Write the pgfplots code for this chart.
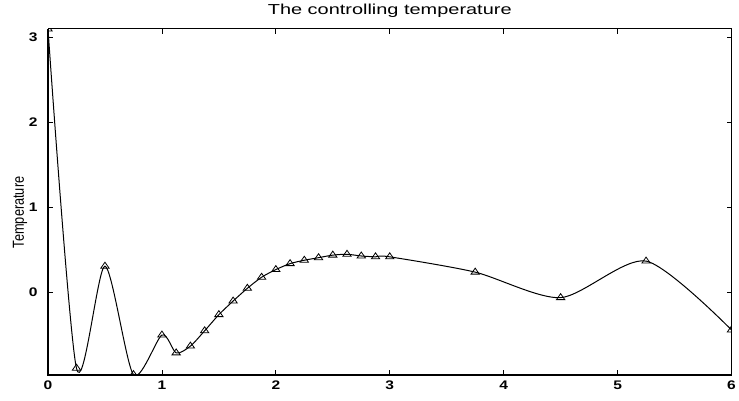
\documentclass[border=0pt]{standalone}
\usepackage{pgfplots}
\pgfplotsset{compat=1.18}
\usepackage{fontspec}
\setmainfont{Liberation Sans}
\usepackage{graphicx}
\pgfplotstableread{
x y
0 3.10
0.25 -0.89
0.5 0.31
0.75 -0.965
1.0 -0.50
1.125 -0.71
1.25 -0.63
1.375 -0.45
1.5 -0.26
1.625 -0.10
1.75 0.05
1.875 0.18
2.0 0.27
2.125 0.34
2.25 0.38
2.375 0.41
2.5 0.44
2.625 0.45
2.75 0.43
2.875 0.42
3.0 0.42
3.75 0.24
4.5 -0.06
5.25 0.37
6.0 -0.44
}\datatable
\begin{document}
\begin{tikzpicture}
\useasboundingbox (-48bp,-26bp) rectangle (691bp,375bp);
\begin{axis}[
  scale only axis, width=683.5bp, height=346bp,
  at={(0,0)}, anchor=south west,
  xmin=0, xmax=6, ymin=-0.97, ymax=3.1,
  xtick={0,1,2,3,4,5,6}, ytick={0,1,2,3},
  /pgf/number format/assume math mode=true,
  xticklabel={\scalebox{1.25}[1]{\pgfmathprintnumber{\tick}}},
  yticklabel={\scalebox{1.25}[1]{\pgfmathprintnumber{\tick}}},
  tick align=inside, major tick length=5bp,
  tick style={black, line width=0.8bp},
  axis line style={line width=1bp},
  ticklabel style={font=\fontsize{12.5}{14}\selectfont\bfseries},
  xticklabel style={anchor=north, yshift=-2bp},
  yticklabel style={anchor=east, xshift=-7bp},
  title={\scalebox{1.38}[1]{The controlling temperature}},
  title style={font=\fontsize{14.5}{16}\selectfont, at={(axis description cs:0.5,1)}, anchor=base, yshift=9bp},
  ylabel={\scalebox{1}[1.25]{Temperature}},
  ylabel style={font=\fontsize{12.8}{14}\selectfont, at={(axis description cs:0,0.47)}, anchor=center, rotate=0, yshift=28bp},
  clip marker paths=true,
]
\addplot[black, line width=1bp, smooth, tension=0.45, mark=triangle, mark size=4bp,
  mark options={solid, fill=white, xscale=1.2, line width=0.8bp}] table[x=x,y=y] {\datatable};
\end{axis}
\draw[line width=2bp] (0,346bp) -- (0,0) -- (683.5bp,0);
\end{tikzpicture}
\end{document}
